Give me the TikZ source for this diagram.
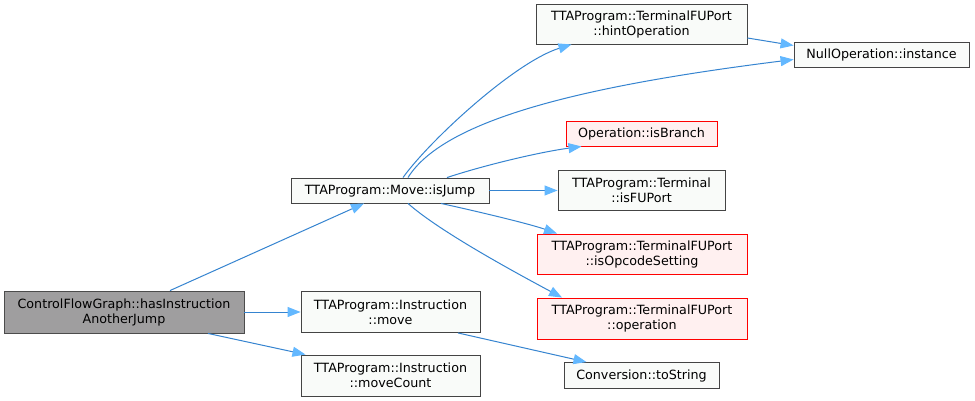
\documentclass[tikz,border=0pt]{standalone}
\usepackage{fontspec}
\setmainfont{DejaVu Sans}
\usetikzlibrary{arrows.meta}
\definecolor{edgecol}{HTML}{3584D0}
\definecolor{headcol}{HTML}{63B8FF}
\definecolor{boxfill}{HTML}{F9FBF9}
\definecolor{boxline}{HTML}{444444}
\definecolor{redfill}{HTML}{FFF0F0}
\definecolor{rootfill}{HTML}{9F9E9F}
\tikzset{
  box/.style={draw=boxline, fill=boxfill, line width=0.9pt, inner sep=0pt, align=center,
    font=\fontsize{12.7}{15}\selectfont},
  redbox/.style={box, draw=red, fill=redfill},
  rootbox/.style={box, draw=black!70, fill=rootfill},
  edge/.style={draw=edgecol, line width=1pt,
    -{Triangle[length=13pt,width=10pt,color=headcol,fill=headcol]}},
}
\begin{document}
\begin{tikzpicture}[x=1pt,y=-1pt]
\useasboundingbox[fill=white] (0,0) rectangle (975,401);

\node[rootbox, minimum width=240pt, minimum height=42pt] (cfg) at (124,312) {ControlFlowGraph::hasInstruction\\AnotherJump};
\node[box, minimum width=198pt, minimum height=25pt] (isjump) at (390,190.5) {TTAProgram::Move::isJump};
\node[box, minimum width=179pt, minimum height=41pt] (move) at (390.5,312) {TTAProgram::Instruction\\::move};
\node[box, minimum width=179pt, minimum height=41pt] (movecount) at (390.5,375.5) {TTAProgram::Instruction\\::moveCount};
\node[box, minimum width=211pt, minimum height=40pt] (hint) at (641.5,24) {TTAProgram::TerminalFUPort\\::hintOperation};
\node[box, minimum width=175pt, minimum height=25pt] (nullop) at (881.5,54.5) {NullOperation::instance};
\node[redbox, minimum width=151pt, minimum height=25pt] (branch) at (641.5,133.5) {Operation::isBranch};
\node[box, minimum width=167pt, minimum height=40pt] (fuport) at (641.5,190.5) {TTAProgram::Terminal\\::isFUPort};
\node[redbox, minimum width=210pt, minimum height=40pt] (opcode) at (642,254) {TTAProgram::TerminalFUPort\\::isOpcodeSetting};
\node[redbox, minimum width=210pt, minimum height=41pt] (operation) at (642,318.5) {TTAProgram::TerminalFUPort\\::operation};
\node[box, minimum width=155pt, minimum height=26pt] (tostring) at (641.5,375.5) {Conversion::toString};

% edges
\draw[edge] ([xshift=46pt]cfg.north) -- ([xshift=-26pt]isjump.south);
\draw[edge] (cfg.east) -- (move.west);
\draw[edge] ([xshift=84pt]cfg.south) -- ([xshift=-85pt]movecount.north);

\draw[edge] ([xshift=13pt]isjump.north) .. controls (430,140) and (515,62) .. ([xshift=-70pt]hint.south);
\draw[edge] ([xshift=18pt]isjump.north) .. controls (445,118) and (590,85) .. ([yshift=-5pt]nullop.west);
\draw[edge] ([xshift=57pt]isjump.north) .. controls (485,165) and (540,152) .. ([xshift=-60pt]branch.south);
\draw[edge] (isjump.east) -- (fuport.west);
\draw[edge] ([xshift=51pt]isjump.south) .. controls (480,212) and (530,224) .. ([xshift=-85pt]opcode.north);
\draw[edge] ([xshift=18pt]isjump.south) .. controls (440,232) and (520,275) .. ([xshift=-80pt]operation.north);

\draw[edge] ([xshift=67.5pt]move.south) -- ([xshift=-55pt]tostring.north);
\draw[edge] ([yshift=-14pt]hint.east) -- ([yshift=9pt]nullop.west);
\end{tikzpicture}
\end{document}
